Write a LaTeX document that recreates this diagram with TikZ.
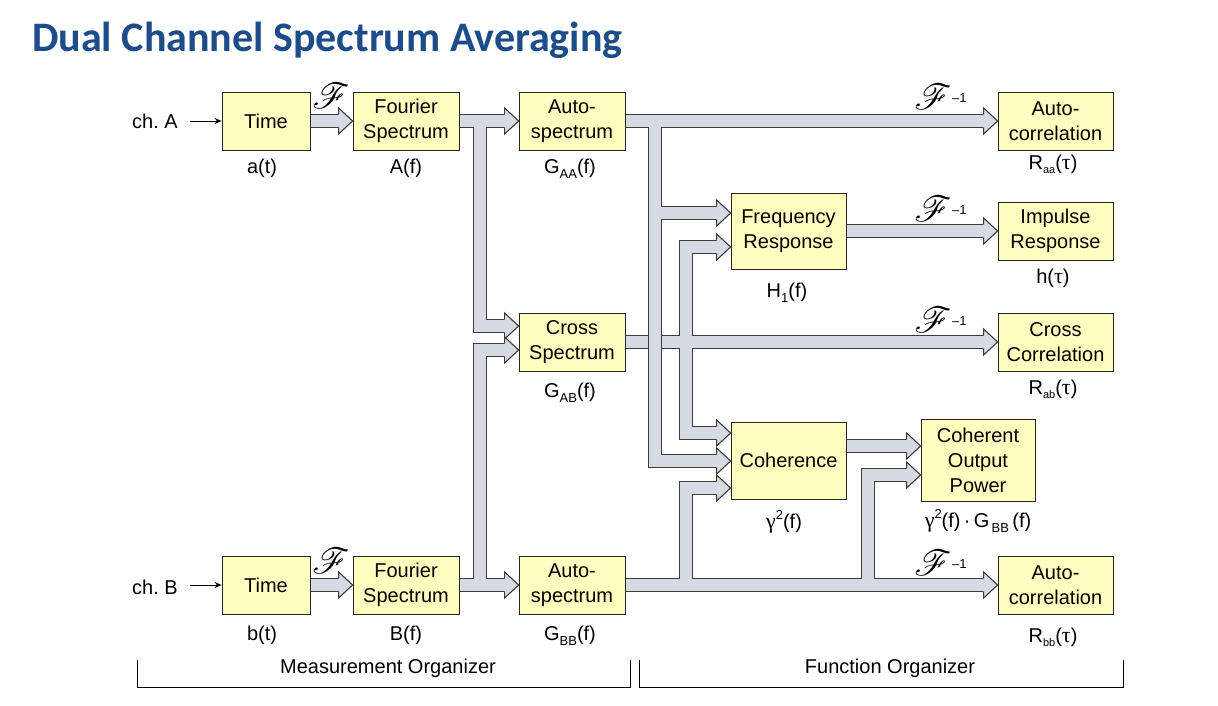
\documentclass[tikz,border=0pt]{standalone}
\usepackage{fontspec}
\usepackage{mathrsfs}
\usepackage{graphicx}
\setmainfont{Liberation Sans}
\newfontfamily\titlefont{Carlito}
\newfontfamily\grk{Liberation Serif}
\usetikzlibrary{calc,arrows.meta,backgrounds}
\definecolor{boxfill}{RGB}{255,255,192}
\definecolor{pipefill}{RGB}{214,219,227}
\definecolor{pipeedge}{RGB}{60,60,60}
\definecolor{titleblue}{RGB}{28,76,138}
\newcommand{\lowtxt}[1]{\raisebox{-0.55ex}{\fontsize{13}{13}\selectfont #1}}
\newcommand{\tinylow}[1]{\raisebox{-0.45ex}{\fontsize{11}{11}\selectfont #1}}
\newcommand{\uptxt}[1]{\raisebox{0.85ex}{\fontsize{13}{13}\selectfont #1}}
\newcommand{\scrF}{\scalebox{1.45}{\fontsize{24.88}{26}\selectfont$\mathscr{F}$}}
\newcommand{\gtau}{{\grk\fontsize{22}{24}\selectfont τ}}
\newcommand{\ggam}{{\grk\fontsize{22}{24}\selectfont γ}}
% pipe groups
\newcommand{\pipeCross}[1]{%
  \draw[#1] (cs.east) -- (cc-b);
  \draw[#1] (cs.east -| xB) |- (fr-b2);
  \draw[#1] (cs.east -| xB) |- (co-b1);}
\newcommand{\pipeAutoA}[1]{%
  \draw[#1] (aa.east) -- (raa-b);
  \draw[#1] (aa.east -| xA) |- (co-b2);
  \draw[#1] (fr-b1 -| xA) -- (fr-b1);}
\newcommand{\pipeRest}[1]{%
  \draw[#1] (ta.east) -- (fa-b);
  \draw[#1] (tb.east) -- (fb-b);
  \draw[#1] (fa.east) -- (aa-b);
  \draw[#1] (fa.east -| xF) |- (cs-b1);
  \draw[#1] (fb.east) -- (ab-b);
  \draw[#1] (fb.east -| xF) |- (cs-b2);
  \draw[#1] (ab.east) -- (rbb-b);
  \draw[#1] (ab.east -| xB) |- (co-b3);
  \draw[#1] (ab.east -| xC) |- (cop-b2);
  \draw[#1] (fr.east) -- (ir-b);
  \draw[#1] (co-out) -- (cop-b1);}
\begin{document}
\begin{tikzpicture}[x=1pt,y=-1pt,
  blk/.style={draw=black!85, line width=0.8pt, fill=boxfill, inner sep=0pt,
    align=center, font=\fontsize{20}{25}\selectfont},
  lbl/.style={font=\fontsize{20}{24}\selectfont, anchor=base, inner sep=0pt},
  pipeout/.style={line width=14.4pt, draw=pipeedge, line join=miter, shorten >=-2pt},
  pipein/.style={line width=12.2pt, draw=pipefill, line join=miter, shorten >=-2pt},
  pipehead/.pic={\filldraw[fill=pipefill, draw=pipeedge, line width=1.1pt, line join=miter]
     (0,6.6) -- (0,13) -- (14,0) -- (0,-13) -- (0,-6.6);},
  finv/.style={font=\fontsize{13}{13}\selectfont, inner sep=0pt}
]
\useasboundingbox (0,0) rectangle (1218,706);

% title
\node[anchor=base west, inner sep=0pt, text=titleblue,
  font=\titlefont\bfseries\fontsize{42}{44}\selectfont] (title) at (32,52)
  {Dual Channel Spectrum Averaging};

% boxes
\node[blk, minimum width=88pt, minimum height=58pt] (ta) at (266,121) {Time};
\node[blk, minimum width=106pt, minimum height=58pt] (fa) at (406,121) {Fourier\\Spectrum};
\node[blk, minimum width=106pt, minimum height=58pt] (aa) at (572,121) {Auto-\\spectrum};
\node[blk, minimum width=115pt, minimum height=58pt] (raa) at (1055.5,121) {Auto-\\correlation};
\node[blk, minimum width=115pt, minimum height=76pt] (fr) at (788.5,231) {Frequency\\Response};
\node[blk, minimum width=115pt, minimum height=58pt] (ir) at (1055.5,231) {Impulse\\Response};
\node[blk, minimum width=106pt, minimum height=58pt] (cs) at (572,342) {Cross\\Spectrum};
\node[blk, minimum width=115pt, minimum height=58pt] (cc) at (1055.5,342) {Cross\\Correlation};
\node[blk, minimum width=115pt, minimum height=77pt] (co) at (788.5,460.5) {Coherence};
\node[blk, minimum width=114pt, minimum height=82pt] (cop) at (978,460) {Coherent\\Output\\Power};
\node[blk, minimum width=88pt, minimum height=58pt] (tb) at (266,585) {Time};
\node[blk, minimum width=106pt, minimum height=58pt] (fb) at (406,585) {Fourier\\Spectrum};
\node[blk, minimum width=106pt, minimum height=58pt] (ab) at (572,585) {Auto-\\spectrum};
\node[blk, minimum width=115pt, minimum height=58pt] (rbb) at (1055.5,585) {Auto-\\correlation};

% labels
\node[lbl] (lat) at (262,173) {a(t)};
\node[lbl] (laf) at (406,173) {A(f)};
\node[lbl] (lgaa) at (570,173) {G\lowtxt{AA}(f)};
\node[lbl] (lraa) at (1053,169) {R\tinylow{aa}(\gtau)};
\node[lbl] (lh1) at (787,297) {H\lowtxt{1}(f)};
\node[lbl] (lh) at (1053,283) {h(\gtau)};
\node[lbl] (lgab) at (570,397) {G\lowtxt{AB}(f)};
\node[lbl] (lrab) at (1053,394) {R\tinylow{ab}(\gtau)};
\node[lbl] (lgam) at (784,528) {\ggam\uptxt{2}(f)};
\node[lbl] (lcop) at (978,527) {\ggam\uptxt{2}(f)\,·\,G\lowtxt{\,BB}\,(f)};
\node[lbl] (lbt) at (262,640) {b(t)};
\node[lbl] (lbf) at (406,640) {B(f)};
\node[lbl] (lgbb) at (570,640) {G\lowtxt{BB}(f)};
\node[lbl] (lrbb) at (1053,642) {R\tinylow{bb}(\gtau)};

% channel inputs
\node[lbl] (cha) at (155,129) {ch.\ A};
\node[lbl] (chb) at (155,594) {ch.\ B};
\draw[-{Stealth[length=7pt,width=6pt]}, line width=0.9pt, shorten <=12pt]
  (ta.west -| cha.east) -- (ta.west);
\draw[-{Stealth[length=7pt,width=6pt]}, line width=0.9pt, shorten <=12pt]
  (tb.west -| chb.east) -- (tb.west);

% transform symbols
\node[inner sep=0pt] (fta) at (331,96) {\scrF};
\node[inner sep=0pt] (ftb) at (331,561) {\scrF};
\node[inner sep=0pt] (fi1) at (933,97) {\scrF};
\node[finv, anchor=west] (fi1n) at (952,98) {–1};
\node[inner sep=0pt] (fi2) at (933,209) {\scrF};
\node[finv, anchor=west] (fi2n) at (952,210) {–1};
\node[inner sep=0pt] (fi3) at (933,320) {\scrF};
\node[finv, anchor=west] (fi3n) at (952,321) {–1};
\node[inner sep=0pt] (fi4) at (933,563) {\scrF};
\node[finv, anchor=west] (fi4n) at (952,564) {–1};

% organizer brackets
\draw[line width=0.8pt] (137,660) -- (137,687) -- (630,687) -- (630,660);
\draw[line width=0.8pt] (639,660) -- (639,687) -- (1123,687) -- (1123,660);
\node[lbl] (mo) at (388,673) {Measurement Organizer};
\node[lbl] (fo) at (890,673) {Function Organizer};

% ports
\coordinate (xF) at (480,0);
\coordinate (xA) at (655,0);
\coordinate (xB) at (686,0);
\coordinate (xC) at (868,0);
\coordinate (fa-b) at ($(fa.west)+(-14,0)$);
\coordinate (fb-b) at ($(fb.west)+(-14,0)$);
\coordinate (aa-b) at ($(aa.west)+(-14,0)$);
\coordinate (ab-b) at ($(ab.west)+(-14,0)$);
\coordinate (cs-b1) at ($(cs.west)+(-14,-16)$);
\coordinate (cs-b2) at ($(cs.west)+(-14,8)$);
\coordinate (raa-b) at ($(raa.west)+(-14,0)$);
\coordinate (ir-b) at ($(ir.west)+(-14,0)$);
\coordinate (cc-b) at ($(cc.west)+(-14,0)$);
\coordinate (rbb-b) at ($(rbb.west)+(-14,0)$);
\coordinate (fr-b1) at ($(fr.west)+(-14,-18)$);
\coordinate (fr-b2) at ($(fr.west)+(-14,16)$);
\coordinate (co-b1) at ($(co.west)+(-14,-27.5)$);
\coordinate (co-b2) at ($(co.west)+(-14,0.5)$);
\coordinate (co-b3) at ($(co.west)+(-14,27.5)$);
\coordinate (cop-b1) at ($(cop.west)+(-14,-14)$);
\coordinate (cop-b2) at ($(cop.west)+(-14,15)$);
\coordinate (co-out) at ($(co.east)+(0,-14.5)$);

\begin{scope}[on background layer]
  \fill[white] (0,0) rectangle (1218,706);
  \pipeCross{pipeout}
  \pipeCross{pipein}
  \pipeAutoA{pipeout}
  \pipeAutoA{pipein}
  \pipeRest{pipeout}
  \pipeRest{pipein}
  \foreach \p in {fa-b,fb-b,aa-b,ab-b,cs-b1,cs-b2,raa-b,ir-b,cc-b,rbb-b,
                  fr-b1,fr-b2,co-b1,co-b2,co-b3,cop-b1,cop-b2}
    \pic at (\p) {pipehead};
\end{scope}
\end{tikzpicture}
\end{document}
